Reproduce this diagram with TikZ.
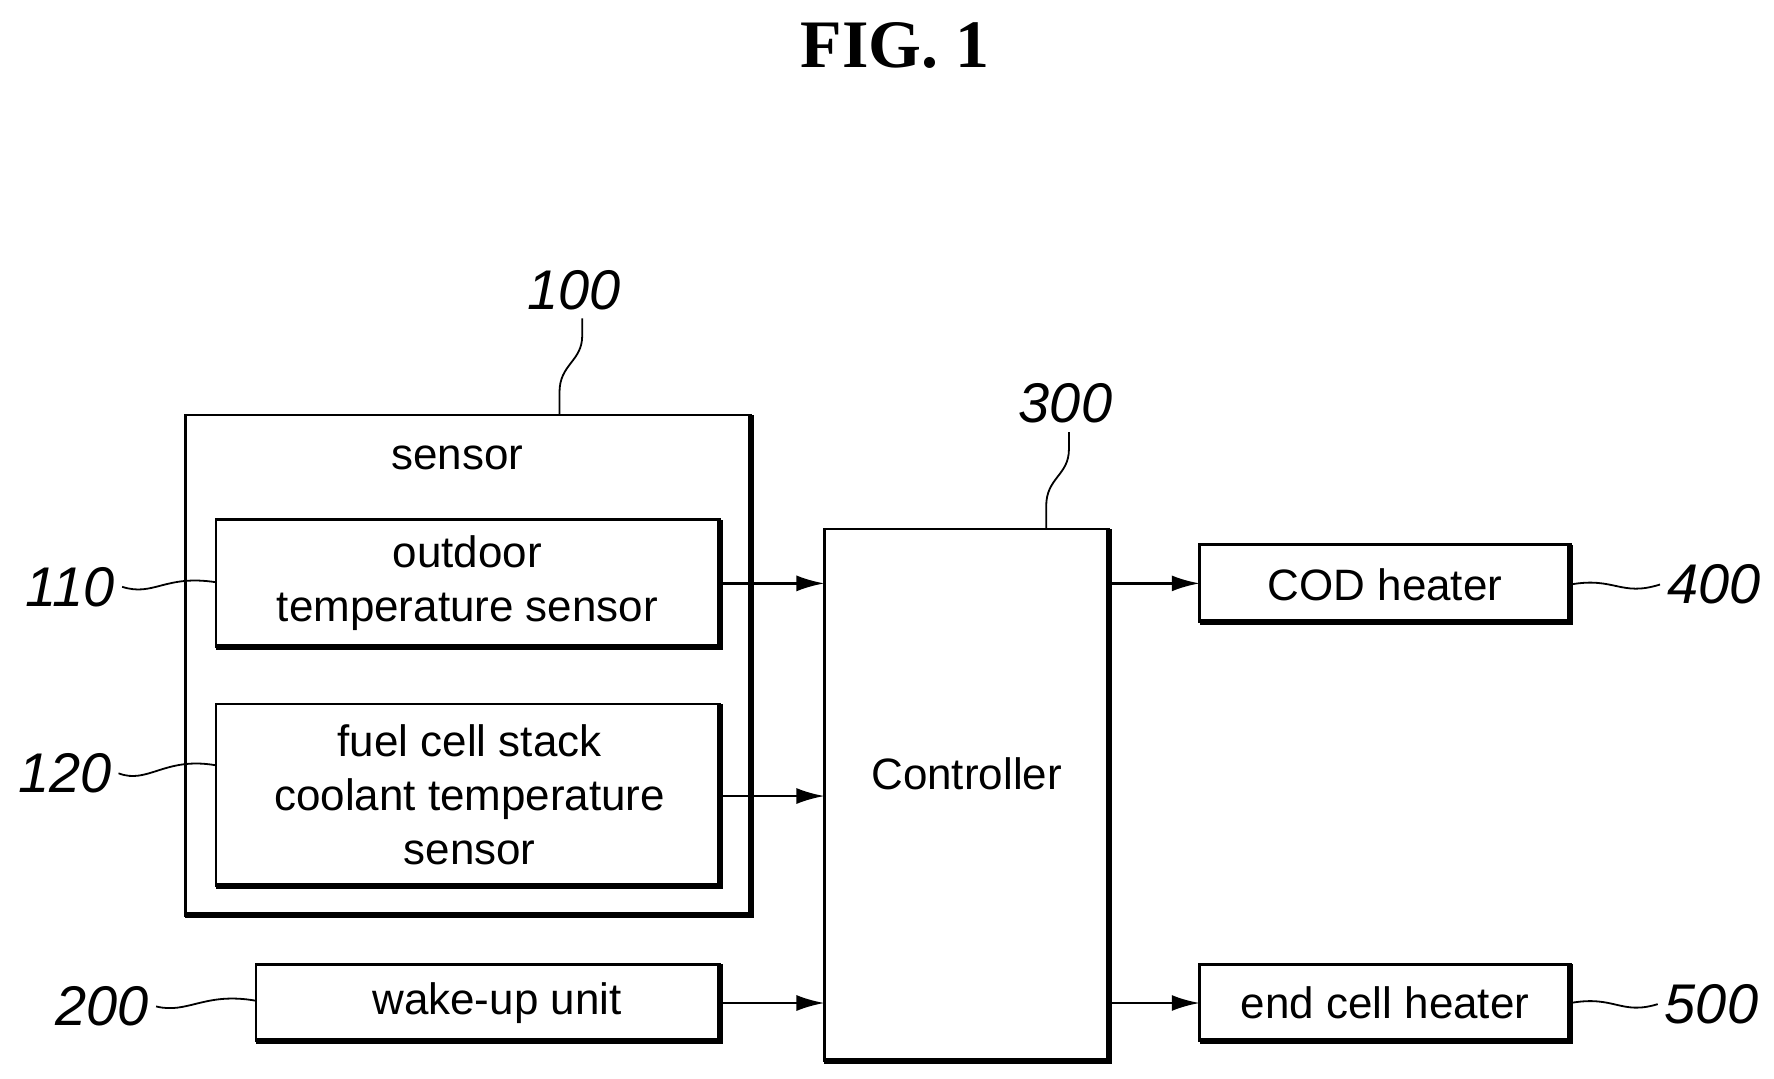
\documentclass[tikz,border=0pt]{standalone}
\usepackage{fontspec}
\setmainfont{Liberation Serif}
\setsansfont{Liberation Sans}
\usetikzlibrary{arrows.meta}
\begin{document}
\begin{tikzpicture}[x=0.02cm,y=-0.02cm,
  box/.style={draw,line width=1.3pt,inner sep=0pt},
  txt/.style={font=\sffamily\fontsize{22}{27}\selectfont,align=center},
  lab/.style={font=\sffamily\itshape\fontsize{28}{30}\selectfont},
  arr/.style={line width=1.3pt,-{Latex[length=14pt,width=8pt]}},
  lead/.style={line width=0.9pt}]
\useasboundingbox (0,0) rectangle (1560,948);
\node[font=\bfseries\fontsize{34}{36}\selectfont] (fig) at (787,40) {FIG. 1};
\newcommand\shbox[2]{%
  \draw[box] (#1) rectangle (#2);
  \draw[line width=3pt] (#1 |- #2) -- (#2) -- (#2 |- #1);}
% sensor
\coordinate (s1) at (163,365); \coordinate (s2) at (660,805);
\shbox{s1}{s2}
\node[txt] (sensor) at (402,403) {sensor};
\coordinate (o1) at (190,457); \coordinate (o2) at (633,569);
\shbox{o1}{o2}
\node[txt] (outdoor) at (411,513) {outdoor\\temperature sensor};
\coordinate (f1) at (190,619); \coordinate (f2) at (633,779);
\shbox{f1}{f2}
\node[txt] (fuel) at (413,699) {fuel cell stack\\coolant temperature\\sensor};
\coordinate (w1) at (225,848); \coordinate (w2) at (633,915);
\shbox{w1}{w2}
\node[txt] (wake) at (437,882) {wake-up unit};
\coordinate (c1) at (725,465); \coordinate (c2) at (975,933);
\shbox{c1}{c2}
\node[txt] (ctrl) at (850,680) {Controller};
\coordinate (h1) at (1055,479); \coordinate (h2) at (1381,547);
\shbox{h1}{h2}
\node[txt] (cod) at (1218,514) {COD heater};
\coordinate (e1) at (1055,848); \coordinate (e2) at (1381,915);
\shbox{e1}{e2}
\node[txt] (endc) at (1218,882) {end cell heater};
% arrows
\coordinate (a1) at (633,513); \coordinate (b1) at (725,513);
\coordinate (a2) at (633,700); \coordinate (b2) at (725,700);
\coordinate (a3) at (633,882); \coordinate (b3) at (725,882);
\coordinate (a4) at (975,513); \coordinate (b4) at (1055,513);
\coordinate (a5) at (975,882); \coordinate (b5) at (1055,882);
\foreach \i in {1,...,5} \draw[arr] (a\i) -- (b\i);
% labels
\node[lab] (l100) at (505,255) {100};
\node[lab] (l300) at (937,355) {300};
\node[lab] (l110) at (62,516) {110};
\node[lab] (l120) at (57,680) {120};
\node[lab] (l200) at (90,885) {200};
\node[lab] (l400) at (1507,514) {400};
\node[lab] (l500) at (1505,883) {500};
\draw[lead] (492,365) -- (492,345) .. controls (492,320) and (512,318) .. (512,295) -- (512,280);
\draw[lead] (920,465) -- (920,445) .. controls (920,420) and (940,418) .. (940,395) -- (940,380);
\draw[lead] (l110.east) .. controls (135,525) and (145,505) .. (190,512);
\draw[lead] (l120.east) .. controls (130,690) and (145,665) .. (190,673);
\draw[lead] (l200.east) .. controls (165,892) and (180,872) .. (225,880);
\draw[lead] (1381,514) .. controls (1420,507) and (1425,525) .. (l400.west);
\draw[lead] (1381,882) .. controls (1420,875) and (1425,893) .. (l500.west);
\end{tikzpicture}
\end{document}
